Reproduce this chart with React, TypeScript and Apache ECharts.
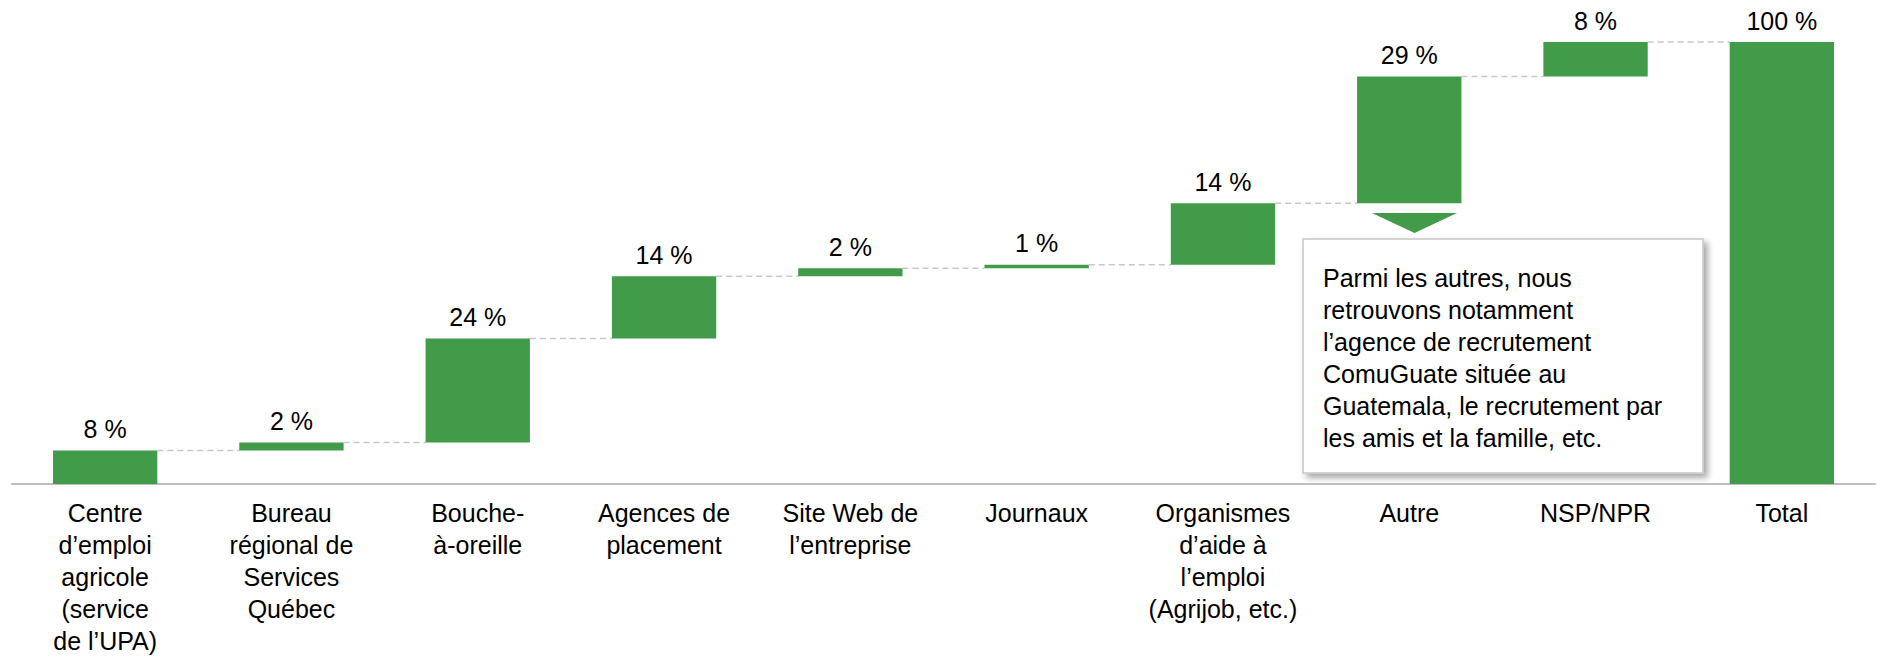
import React, { useEffect, useRef } from "react";
import * as echarts from "echarts";

const categories = [
  "Centre\nd’emploi\nagricole\n(service\nde l’UPA)",
  "Bureau\nrégional de\nServices\nQuébec",
  "Bouche-\nà-oreille",
  "Agences de\nplacement",
  "Site Web de\nl’entreprise",
  "Journaux",
  "Organismes\nd’aide à\nl’emploi\n(Agrijob, etc.)",
  "Autre",
  "NSP/NPR",
  "Total",
];
const increments = [7.6, 1.8, 23.5, 14.1, 1.8, 0.8, 13.9, 28.7, 7.8];
const totalValue = 100;
const noteText =
  "Parmi les autres, nous\nretrouvons notamment\nl’agence de recrutement\nComuGuate située au\nGuatemala, le recrutement par\nles amis et la famille, etc.";

const GREEN = "#419b48";
const FONT = "'Liberation Sans', Arial, sans-serif";
const BAR_RATIO = 0.56;

export default function App() {
  const ref = useRef<HTMLDivElement>(null);
  useEffect(() => {
    if (!ref.current) return;
    const chart = echarts.init(ref.current, null, { renderer: "svg" });

    const bases: number[] = [];
    let cum = 0;
    increments.forEach((v) => {
      bases.push(cum);
      cum += v;
    });
    bases.push(0);
    const values = [...increments, totalValue];
    const connectors = values.slice(0, -1).map((v, i) => [i, bases[i] + v]);

    chart.setOption({
      animation: false,
      grid: { left: 12, right: 2, top: 42, bottom: 169, containLabel: false },
      xAxis: {
        type: "category",
        data: categories,
        axisTick: { show: false },
        axisLine: { lineStyle: { color: "#bfbfbf", width: 2 } },
        axisLabel: {
          interval: 0,
          margin: 13,
          color: "#000",
          fontFamily: FONT,
          fontSize: 25,
          lineHeight: 32,
        },
      },
      yAxis: { type: "value", min: 0, max: 100, show: false, splitLine: { show: false } },
      series: [
        {
          type: "bar",
          stack: "w",
          data: bases,
          itemStyle: { color: "transparent" },
          barWidth: BAR_RATIO * 100 + "%",
          silent: true,
        },
        {
          type: "bar",
          stack: "w",
          data: values,
          barWidth: BAR_RATIO * 100 + "%",
          itemStyle: { color: GREEN },
          label: {
            show: true,
            position: "top",
            distance: 9,
            color: "#000",
            fontFamily: FONT,
            fontSize: 25,
            formatter: (p: any) => Math.round(p.value) + " %",
          },
        },
        {
          type: "custom",
          data: connectors,
          silent: true,
          z: 1,
          renderItem: (params: any, api: any) => {
            const i = api.value(0);
            const level = api.value(1);
            const p = api.coord([i, level]);
            const band = api.size([1, 0])[0];
            const half = (band * BAR_RATIO) / 2;
            return {
              type: "line",
              shape: { x1: p[0] + half, y1: p[1], x2: p[0] + band - half, y2: p[1] },
              style: { stroke: "#c8c8c8", lineWidth: 1.5, lineDash: [6, 4] },
            };
          },
        },
      ],
      graphic: [
        {
          type: "polygon",
          shape: { points: [[1372, 213], [1457, 213], [1414.5, 233]] },
          style: { fill: GREEN },
        },
        {
          type: "rect",
          shape: { x: 1303, y: 239, width: 400, height: 234 },
          style: {
            fill: "#fff",
            stroke: "#c8c8c8",
            lineWidth: 1.5,
            shadowBlur: 6,
            shadowOffsetX: 4,
            shadowOffsetY: 4,
            shadowColor: "rgba(0,0,0,0.35)",
          },
        },
        {
          type: "text",
          x: 1323,
          y: 262,
          style: {
            text: noteText,
            fill: "#000",
            font: `25px ${FONT}`,
            lineHeight: 32,
          },
        },
      ],
    });
    return () => chart.dispose();
  }, []);
  return (
    <div
      ref={ref}
      style={{ position: "fixed", left: 0, top: 0, width: 1877, height: 657, background: "#fff" }}
    />
  );
}
